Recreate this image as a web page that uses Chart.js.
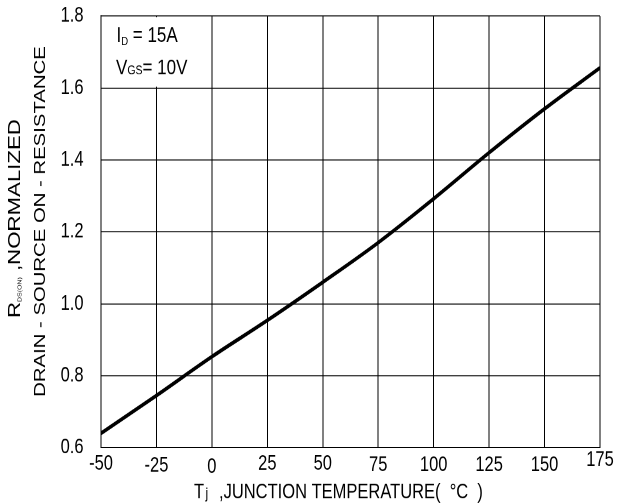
<!DOCTYPE html>
<html><head><meta charset="utf-8">
<script src="https://cdn.jsdelivr.net/npm/chart.js@4.4.1/dist/chart.umd.min.js"></script>
<style>
html,body{margin:0;padding:0;background:#fff;overflow:hidden;}
#outer{width:618px;height:504px;overflow:hidden;position:relative;background:#fff;}
#inner{width:618px;height:397px;transform:scaleY(1.2695214);transform-origin:0 0;}
canvas{display:block;}
</style></head><body>
<div id="outer"><div id="inner"><canvas id="c" width="618" height="397"></canvas></div></div>
<script>
// ---- data ----
const temperatures = [-50, -25, 0, 25, 50, 75, 100, 125, 150, 175];
const rdsOnNormalized = [0.640, 0.745, 0.853, 0.954, 1.060, 1.170, 1.292, 1.420, 1.542, 1.656];
const xTickValues = [-50, -25, 0, 25, 50, 75, 100, 125, 150, 175];
const yTickValues = [0.6, 0.8, 1.0, 1.2, 1.4, 1.6, 1.8];
const noteLines = [["I", "D", " = 15A"], ["V", "GS", "= 10V"]];
const xTitleParts = ["T", "j", ",JUNCTION TEMPERATURE(  °C  )"];
const yTitleLine1 = ["R", "DS(ON)", " ,NORMALIZED"];
const yTitleLine2 = "DRAIN - SOURCE ON - RESISTANCE";

// ---- rendering ----
const K = 504 / 397;            // vertical stretch applied by CSS
const fy = v => v / K;          // final-picture y -> canvas y
const FONT = "'Liberation Sans', Arial, sans-serif";

function drawRun(ctx, pieces, x, y) {
  for (const p of pieces) {
    ctx.font = p.size + 'px ' + FONT;
    if (p.x !== undefined) x = p.x;
    ctx.fillText(p.t, x, y + (p.dy || 0));
    x += ctx.measureText(p.t).width;
  }
}

const textPlugin = {
  id: 'texts',
  beforeDatasetsDraw(chart) {
    const {ctx, scales: {x, y}} = chart;
    ctx.save();
    ctx.fillStyle = '#fff';
    const x0 = x.getPixelForValue(-50) + 1, x1 = x.getPixelForValue(0) - 1;
    const y0 = y.getPixelForValue(1.8) + 1, y1 = y.getPixelForValue(1.6) - 1;
    ctx.fillRect(x0, y0, x1 - x0, y1 - y0);
    ctx.restore();
  },
  afterDraw(chart) {
    const ctx = chart.ctx;
    ctx.save();
    ctx.fillStyle = '#000';
    ctx.textAlign = 'left';
    ctx.textBaseline = 'alphabetic';
    // annotation
    drawRun(ctx, [{t: noteLines[0][0], size: 17}, {t: noteLines[0][1], size: 9.5, dy: fy(3)}, {t: noteLines[0][2], size: 17}], 116.5, fy(42));
    drawRun(ctx, [{t: noteLines[1][0], size: 17}, {t: noteLines[1][1], size: 10.5, dy: fy(0.5)}, {t: noteLines[1][2], size: 17}], 116, fy(74));
    // x title
    drawRun(ctx, [{t: xTitleParts[0], size: 16.5}, {t: xTitleParts[1], size: 12, x: 205.5}, {t: xTitleParts[2], size: 16.5, x: 219}], 194, fy(498));
    // y title line 1
    ctx.save();
    ctx.translate(20, fy(318));
    ctx.rotate(-Math.PI / 2);
    drawRun(ctx, [{t: yTitleLine1[0], size: 17.5}, {t: yTitleLine1[1], size: 5.5, dy: 1.5}, {t: yTitleLine1[2], size: 17.5}], 0, 0);
    ctx.restore();
    // y title line 2
    ctx.save();
    ctx.translate(45, fy(221.5));
    ctx.rotate(-Math.PI / 2);
    ctx.textAlign = 'center';
    ctx.font = '16px ' + FONT;
    ctx.fillText(yTitleLine2, 0, 0);
    ctx.restore();
    ctx.restore();
  }
};

const xNudge = [0, 1.5, 3, 0, 0, 1, 1, 1, 1, -4]; // label stagger (final px)

new Chart(document.getElementById('c'), {
  type: 'line',
  data: {
    datasets: [{
      data: temperatures.map((t, i) => ({x: t, y: rdsOnNormalized[i]})),
      borderColor: '#000',
      borderWidth: 3,
      pointRadius: 0,
      tension: 0.35,
      fill: false
    }]
  },
  options: {
    responsive: false,
    animation: false,
    devicePixelRatio: 2,
    events: [],
    layout: {padding: {left: 0, right: 18, top: fy(16), bottom: 0}},
    plugins: {legend: {display: false}, tooltip: {enabled: false}},
    scales: {
      x: {
        type: 'linear', min: -50, max: 175,
        afterBuildTicks: s => { s.ticks = xTickValues.map(v => ({value: v})); },
        afterFit: s => { s.height = 397 - fy(447.7); s.paddingLeft = 0; s.paddingRight = 0; },
        grid: {color: '#000', lineWidth: 1, drawTicks: false},
        border: {color: '#000', width: 1},
        ticks: {
          color: '#000', padding: 3, maxRotation: 0, autoSkip: false,
          font: ctx => ({family: FONT, size: 16.5, lineHeight: (20 + 2 * (xNudge[ctx.index] || 0) / K) / 16.5}),
          callback: v => String(v)
        }
      },
      y: {
        type: 'linear', min: 0.6, max: 1.8,
        afterBuildTicks: s => { s.ticks = yTickValues.map(v => ({value: v})); },
        afterFit: s => { s.width = 101; s.paddingTop = 0; s.paddingBottom = 0; },
        grid: {color: '#000', lineWidth: 1 / K, drawTicks: false},
        border: {color: '#000', width: 1},
        ticks: {
          color: '#000', padding: 17.5,
          font: {family: FONT, size: 16.5},
          callback: v => Number(v).toFixed(1)
        }
      }
    }
  },
  plugins: [textPlugin]
});
</script>
</body></html>
